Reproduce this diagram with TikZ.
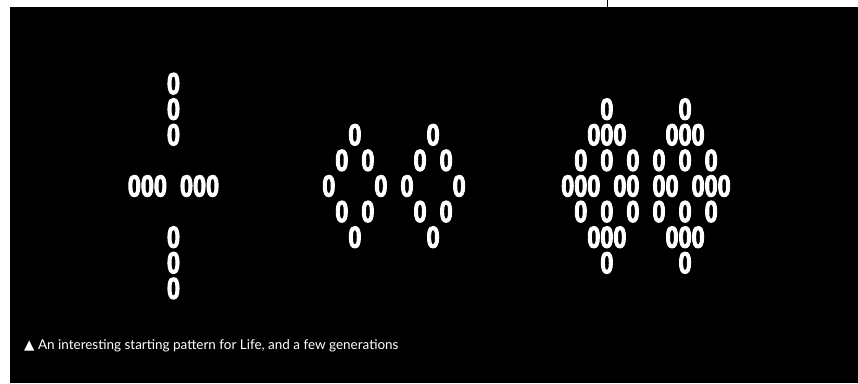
\documentclass[tikz,border=0pt]{standalone}
\usepackage{fontspec}
\setmainfont{Lato}
\newfontfamily\lifefont{Liberation Sans}[FakeStretch=0.77,FakeBold=3,WordSpace={2.0,0,0}]
\newfontfamily\symfont{DejaVu Sans}
\begin{document}
\begin{tikzpicture}[
    x=0.03cm, y=-0.03cm,
    cell/.style={font=\lifefont\bfseries\fontsize{26}{26}\selectfont,
                 text=white, inner sep=0pt},
    caption/.style={font=\fontsize{11.5}{13}\selectfont, text=white,
                    inner sep=0pt, anchor=west}]
  \useasboundingbox (0,0) rectangle (858,383);
  \fill[white] (0,0) rectangle (858,383);
  \fill[black] (10,7) rectangle (858,383);
  \draw[black, line width=0.8pt] (607,0) -- (607,7);
  % pattern 1: the starting cross
  \node[cell] (a1) at (173.5,83.6)  {0};
  \node[cell] (a2) at (173.5,109.2) {0};
  \node[cell] (a3) at (173.5,134.8) {0};
  \node[cell] (a5) at (173.5,186)   {000~000};
  \node[cell] (a7) at (173.5,237.2) {0};
  \node[cell] (a8) at (173.5,262.8) {0};
  \node[cell] (a9) at (173.5,288.4) {0};
  % pattern 2: two diamonds
  \node[cell] (b1) at (394,134.8) {0~~~~~0};
  \node[cell] (b2) at (394,160.4) {0~0~~~0~0};
  \node[cell] (b3) at (394,186)   {0~~~0~0~~~0};
  \node[cell] (b4) at (394,211.6) {0~0~~~0~0};
  \node[cell] (b5) at (394,237.2) {0~~~~~0};
  % pattern 3: a later generation
  \node[cell] (c1) at (646,109.2) {0~~~~~0};
  \node[cell] (c2) at (646,134.8) {000~~~000};
  \node[cell] (c3) at (646,160.4) {0~0~0~0~0~0};
  \node[cell] (c4) at (646,186)   {000~00~00~000};
  \node[cell] (c5) at (646,211.6) {0~0~0~0~0~0};
  \node[cell] (c6) at (646,237.2) {000~~~000};
  \node[cell] (c7) at (646,262.8) {0~~~~~0};
  % caption
  \node[caption] (cap) at (24,346)
    {{\symfont ▲}\hspace{3pt}An interesting starting pattern for Life, and a few generations};
\end{tikzpicture}
\end{document}
